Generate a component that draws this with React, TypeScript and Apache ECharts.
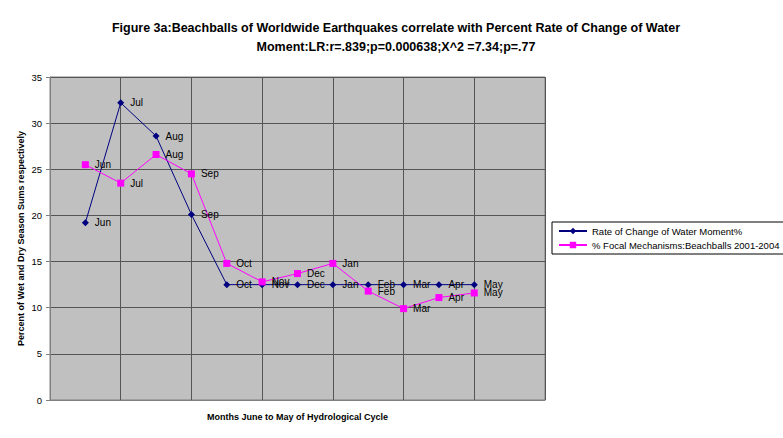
import React, { useEffect, useRef } from "react";
import * as echarts from "echarts";

const months = ["Jun", "Jul", "Aug", "Sep", "Oct", "Nov", "Dec", "Jan", "Feb", "Mar", "Apr", "May"];
const waterMoment = [19.2, 32.2, 28.6, 20.1, 12.5, 12.5, 12.5, 12.5, 12.5, 12.5, 12.5, 12.5];
const beachballs = [25.5, 23.5, 26.6, 24.5, 14.8, 12.8, 13.7, 14.8, 11.8, 9.9, 11.1, 11.6];
const yTicks = [0, 5, 10, 15, 20, 25, 30, 35];

const FONT = "'Liberation Sans', Arial, sans-serif";

export default function App() {
  const ref = useRef<HTMLDivElement>(null);
  useEffect(() => {
    if (!ref.current) return;
    const chart = echarts.init(ref.current, null, { renderer: "svg" });
    const toData = (vals: number[]) => vals.map((v, i) => ({ name: months[i], value: [i + 1, v] }));
    const label = {
      show: true,
      position: "right" as const,
      distance: 6,
      color: "#000",
      fontFamily: FONT,
      fontSize: 10,
      formatter: (p: any) => months[p.dataIndex],
    };
    chart.setOption({
      animation: false,
      backgroundColor: "#fff",
      textStyle: { fontFamily: FONT },
      title: {
        text: "Figure 3a:Beachballs of Worldwide Earthquakes correlate with Percent Rate of Change of Water\nMoment:LR:r=.839;p=0.000638;X^2 =7.34;p=.77",
        left: 391,
        textAlign: "center",
        top: 13,
        textStyle: { fontFamily: FONT, fontSize: 12.5, fontWeight: "bold", color: "#000", lineHeight: 19 },
      },
      legend: {
        orient: "vertical",
        left: 552,
        top: 222,
        width: 222,
        padding: [4, 6, 4, 6],
        itemGap: 4,
        itemWidth: 28,
        itemHeight: 8,
        borderColor: "#000",
        borderWidth: 1,
        textStyle: { fontFamily: FONT, fontSize: 9.5, color: "#000" },
        data: ["Rate of Change of Water Moment%", "% Focal Mechanisms:Beachballs 2001-2004"],
      },
      grid: {
        left: 50,
        top: 77,
        width: 495,
        height: 323,
        show: true,
        backgroundColor: "#c0c0c0",
        borderColor: "#808080",
        borderWidth: 1,
      },
      xAxis: {
        type: "value",
        min: 0,
        max: 14,
        interval: 2,
        name: "Months June to May of Hydrological Cycle",
        nameLocation: "middle",
        nameGap: 12,
        nameTextStyle: { fontFamily: FONT, fontSize: 9, fontWeight: "bold", color: "#000" },
        axisLabel: { show: false },
        axisTick: { show: false },
        axisLine: { show: true, lineStyle: { color: "#808080" } },
        splitLine: { show: true, lineStyle: { color: "#555", width: 1 } },
      },
      yAxis: {
        type: "value",
        min: 0,
        max: 35,
        interval: 5,
        name: "Percent of Wet and Dry Season Sums respectively",
        nameLocation: "middle",
        nameGap: 25,
        nameMoveOverlap: false,
        nameTextStyle: { fontFamily: FONT, fontSize: 9, fontWeight: "bold", color: "#000" },
        axisLabel: {
          fontFamily: FONT,
          fontSize: 9.5,
          color: "#000",
          margin: 8,
          formatter: (v: number) => (yTicks.includes(v) ? String(v) : ""),
        },
        axisTick: { show: true, inside: false, length: 4, lineStyle: { color: "#808080" } },
        axisLine: { show: true, lineStyle: { color: "#808080" } },
        splitLine: { show: true, lineStyle: { color: "#555", width: 1 } },
      },
      series: [
        {
          name: "Rate of Change of Water Moment%",
          type: "line",
          data: toData(waterMoment),
          symbol: "diamond",
          symbolSize: 7,
          color: "#000080",
          lineStyle: { color: "#000080", width: 1 },
          itemStyle: { color: "#000080" },
          label,
        },
        {
          name: "% Focal Mechanisms:Beachballs 2001-2004",
          type: "line",
          data: toData(beachballs),
          symbol: "rect",
          symbolSize: 7,
          color: "#ff00ff",
          lineStyle: { color: "#ff00ff", width: 1 },
          itemStyle: { color: "#ff00ff" },
          label,
        },
      ],
    });
    return () => chart.dispose();
  }, []);
  return <div ref={ref} style={{ width: 783, height: 438, position: "absolute", left: 0, top: 0 }} />;
}
